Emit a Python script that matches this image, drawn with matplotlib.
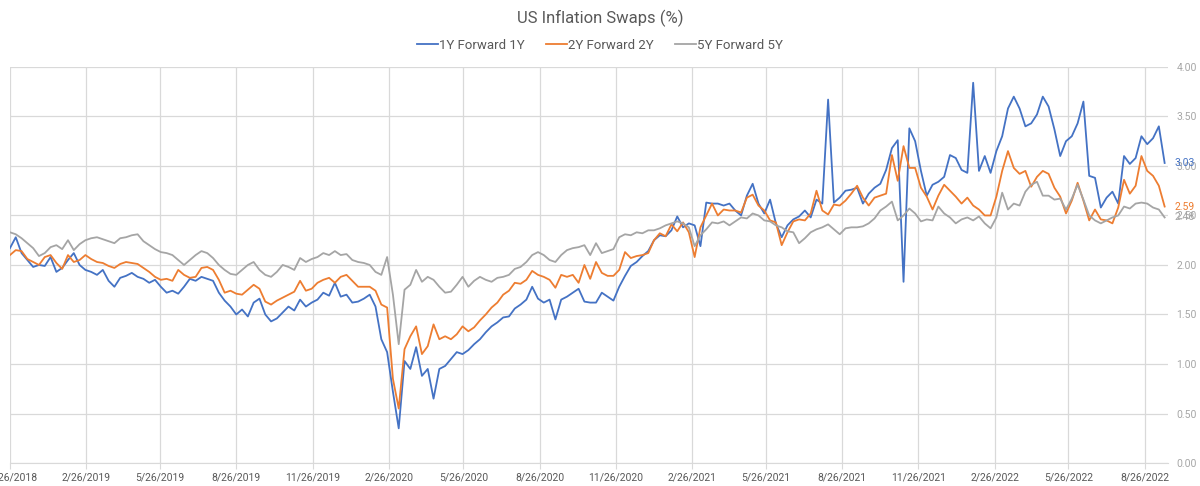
import matplotlib
matplotlib.use("Agg")
import matplotlib.pyplot as plt
import pandas as pd

plt.rcParams["font.family"] = ["Roboto", "DejaVu Sans"]

# weekly observations starting 11/26/2018
start_date = "2018-11-26"

fwd_1y1y = [
    2.17, 2.28, 2.12, 2.05, 1.98, 2.00, 1.99, 2.08, 1.93, 1.97, 2.05, 2.12, 2.00,
    1.95, 1.93, 1.90, 1.95, 1.84, 1.78, 1.87, 1.89, 1.92, 1.88, 1.86, 1.82, 1.85,
    1.78, 1.72, 1.74, 1.71, 1.78, 1.86, 1.84, 1.88, 1.86, 1.84, 1.72, 1.64, 1.58,
    1.50, 1.55, 1.48, 1.62, 1.66, 1.50, 1.43, 1.46, 1.52, 1.58, 1.54, 1.65,
    1.58, 1.62, 1.65, 1.72, 1.69, 1.82, 1.68, 1.70, 1.62, 1.63, 1.66, 1.70,
    1.58, 1.25, 1.12, 0.72, 0.35, 1.03, 0.95, 1.17, 0.88, 0.95, 0.65, 0.95, 0.98,
    1.05, 1.12, 1.10, 1.14, 1.20, 1.25, 1.32, 1.38, 1.42, 1.47, 1.48, 1.56, 1.60,
    1.65, 1.78, 1.66, 1.62, 1.65, 1.45, 1.65, 1.68, 1.72, 1.76, 1.63, 1.62,
    1.62, 1.72, 1.68, 1.64, 1.78, 1.89, 1.99, 2.03, 2.09, 2.14, 2.25, 2.30, 2.29,
    2.35, 2.49, 2.38, 2.42, 2.40, 2.19, 2.63, 2.62, 2.62, 2.60, 2.62, 2.55, 2.50,
    2.70, 2.82, 2.62, 2.52, 2.66, 2.42, 2.28, 2.40, 2.46, 2.49, 2.55, 2.48, 2.66,
    2.62, 3.67, 2.63, 2.68, 2.75, 2.76, 2.78, 2.62, 2.72, 2.78, 2.82,
    2.96, 3.18, 3.26, 1.83, 3.38, 3.25, 2.95, 2.70, 2.81, 2.84, 2.89, 3.11, 3.08,
    2.96, 2.93, 3.84, 2.95, 3.10, 2.93, 3.15, 3.30, 3.58, 3.70, 3.58, 3.40, 3.43,
    3.52, 3.70, 3.60, 3.37, 3.10, 3.25, 3.30, 3.43, 3.65, 2.90, 2.88, 2.58, 2.68,
    2.74, 2.62, 3.10, 3.02, 3.08, 3.30, 3.22, 3.28, 3.40, 3.03,
]

fwd_2y2y = [
    2.10, 2.15, 2.14, 2.06, 2.03, 2.00, 2.08, 2.10, 2.02, 1.96, 2.10, 2.03, 2.05,
    2.10, 2.06, 2.03, 2.02, 1.99, 1.97, 2.01, 2.03, 2.02, 2.01, 1.97, 1.93, 1.88,
    1.85, 1.86, 1.84, 1.95, 1.90, 1.87, 1.88, 1.97, 1.98, 1.95, 1.85, 1.72, 1.74,
    1.71, 1.70, 1.75, 1.80, 1.76, 1.63, 1.60, 1.64, 1.67, 1.70, 1.73, 1.84,
    1.74, 1.76, 1.82, 1.85, 1.87, 1.82, 1.88, 1.90, 1.84, 1.78, 1.78, 1.78,
    1.74, 1.60, 1.57, 0.85, 0.55, 1.15, 1.28, 1.38, 1.10, 1.18, 1.40, 1.25, 1.28,
    1.25, 1.30, 1.38, 1.33, 1.37, 1.44, 1.50, 1.57, 1.62, 1.70, 1.74, 1.82, 1.81,
    1.85, 1.94, 1.90, 1.88, 1.85, 1.77, 1.90, 1.88, 1.90, 1.82, 2.00, 1.86,
    2.03, 1.92, 1.89, 1.89, 1.95, 2.13, 2.07, 2.09, 2.10, 2.12, 2.25, 2.32, 2.29,
    2.41, 2.34, 2.43, 2.33, 2.08, 2.38, 2.50, 2.62, 2.50, 2.56, 2.55, 2.55, 2.53,
    2.68, 2.71, 2.60, 2.55, 2.45, 2.43, 2.20, 2.33, 2.44, 2.46, 2.45, 2.52, 2.75,
    2.55, 2.51, 2.61, 2.60, 2.65, 2.72, 2.80, 2.68, 2.60, 2.68, 2.70,
    2.72, 3.11, 2.85, 3.20, 2.98, 2.98, 2.78, 2.69, 2.56, 2.70, 2.81, 2.75, 2.69,
    2.62, 2.68, 2.60, 2.56, 2.50, 2.50, 2.69, 2.95, 3.15, 2.98, 2.92, 2.95, 2.79,
    2.89, 2.95, 2.92, 2.78, 2.69, 2.52, 2.65, 2.83, 2.65, 2.45, 2.56, 2.46, 2.45,
    2.42, 2.58, 2.86, 2.72, 2.80, 3.10, 2.95, 2.90, 2.80, 2.59,
]

fwd_5y5y = [
    2.33, 2.31, 2.27, 2.22, 2.17, 2.09, 2.12, 2.18, 2.20, 2.16, 2.25, 2.15, 2.21,
    2.25, 2.27, 2.28, 2.26, 2.24, 2.22, 2.27, 2.28, 2.30, 2.31, 2.24, 2.20, 2.16,
    2.13, 2.12, 2.10, 2.05, 2.00, 2.05, 2.10, 2.14, 2.12, 2.07, 2.00, 1.95, 1.91,
    1.90, 1.95, 2.00, 2.03, 1.95, 1.90, 1.88, 1.93, 2.00, 1.98, 1.95, 2.07,
    2.03, 2.06, 2.08, 2.12, 2.10, 2.14, 2.10, 2.11, 2.05, 2.03, 2.02, 2.00,
    1.93, 1.90, 2.08, 1.70, 1.20, 1.75, 1.80, 1.95, 1.83, 1.88, 1.85, 1.78, 1.72,
    1.73, 1.80, 1.88, 1.78, 1.84, 1.88, 1.85, 1.83, 1.87, 1.88, 1.90, 1.96, 1.98,
    2.03, 2.10, 2.13, 2.10, 2.05, 2.03, 2.10, 2.15, 2.17, 2.18, 2.20, 2.10,
    2.22, 2.12, 2.14, 2.16, 2.28, 2.31, 2.30, 2.33, 2.32, 2.35, 2.35, 2.37, 2.40,
    2.42, 2.44, 2.42, 2.38, 2.19, 2.30, 2.36, 2.43, 2.42, 2.44, 2.40, 2.44, 2.48,
    2.47, 2.52, 2.50, 2.45, 2.44, 2.40, 2.38, 2.34, 2.33, 2.22, 2.27, 2.33, 2.36,
    2.38, 2.41, 2.36, 2.31, 2.37, 2.38, 2.38, 2.39, 2.42, 2.47, 2.55,
    2.59, 2.64, 2.45, 2.50, 2.57, 2.52, 2.44, 2.46, 2.45, 2.59, 2.52, 2.48, 2.42,
    2.46, 2.48, 2.45, 2.49, 2.42, 2.37, 2.48, 2.73, 2.56, 2.62, 2.60, 2.74, 2.81,
    2.84, 2.70, 2.70, 2.66, 2.67, 2.56, 2.67, 2.81, 2.66, 2.50, 2.45, 2.42, 2.45,
    2.48, 2.50, 2.59, 2.57, 2.62, 2.63, 2.62, 2.58, 2.56, 2.48,
]

series_names = ["1Y Forward 1Y", "2Y Forward 2Y", "5Y Forward 5Y"]
series_colors = ["#4472C4", "#ED7D31", "#A5A5A5"]

tick_labels = ["11/26/2018", "2/26/2019", "5/26/2019", "8/26/2019", "11/26/2019",
               "2/26/2020", "5/26/2020", "8/26/2020", "11/26/2020", "2/26/2021",
               "5/26/2021", "8/26/2021", "11/26/2021", "2/26/2022", "5/26/2022",
               "8/26/2022"]

dates = pd.date_range(start_date, periods=len(fwd_1y1y), freq="7D")
tick_dates = pd.to_datetime(tick_labels, format="%m/%d/%Y")

fig = plt.figure(figsize=(12, 4.86), dpi=100)
ax = fig.add_axes([0.0083, 0.0473, 0.9650, 0.8150])

all_series = [fwd_1y1y, fwd_2y2y, fwd_5y5y]
for vals, name, col in zip(all_series, series_names, series_colors):
    ax.plot(dates, vals, color=col, lw=1.3, label=name)

ax.set_xlim(pd.Timestamp("2018-11-26"), pd.Timestamp("2022-09-23"))
ax.set_ylim(0, 4)
ax.set_yticks([i * 0.5 for i in range(9)])
ax.set_yticklabels(["%.2f" % (i * 0.5) for i in range(9)])
ax.yaxis.tick_right()
ax.tick_params(axis="y", length=0, pad=6, labelsize=7.5, labelcolor="#A6A6A6")

ax.set_xticks(tick_dates)
ax.set_xticklabels(tick_labels)
ax.tick_params(axis="x", length=4, color="#D9D9D9", pad=3, labelsize=7.5, labelcolor="#595959")

ax.grid(True, color="#D9D9D9", lw=0.9)
ax.set_axisbelow(True)
for s in ["top", "right", "left"]:
    ax.spines[s].set_visible(False)
ax.spines["bottom"].set_color("#D9D9D9")

# last value of each series, printed at the right edge (sits on top of the axis labels)
for vals, col in zip(all_series, series_colors):
    ax.annotate("%.2f" % vals[-1], xy=(1, vals[-1]), xycoords=("axes fraction", "data"),
                xytext=(5, 0), textcoords="offset points", va="center", ha="left",
                fontsize=7.5, color=col)

fig.text(0.5, 0.963, "US Inflation Swaps (%)", ha="center", va="center",
         fontsize=12, color="#595959")
fig.legend(loc="center", bbox_to_anchor=(0.5, 0.907), ncol=3, frameon=False,
           fontsize=9.5, handlelength=1.6, handletextpad=0.1, columnspacing=1.6,
           labelcolor="#595959")

fig.savefig("out.png", dpi=100)
